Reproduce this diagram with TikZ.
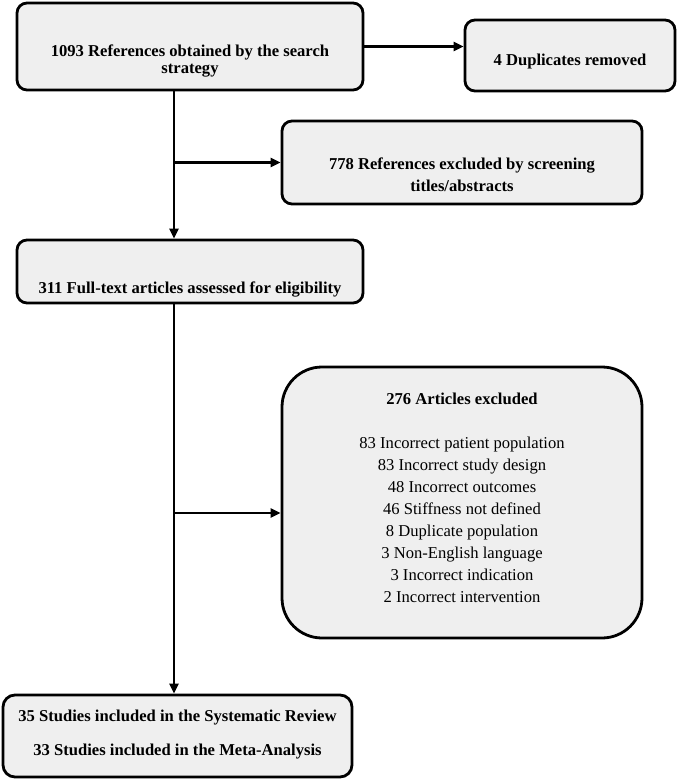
\documentclass[tikz,border=0pt]{standalone}
\usepackage{fontspec}
\setmainfont{Liberation Serif}
\usetikzlibrary{arrows.meta}

\definecolor{boxgray}{HTML}{EFEFEF}
\tikzset{
  box/.style={draw, line width=2.8pt, fill=boxgray, rounded corners=10pt, inner sep=0pt},
  lbl/.style={font=\fontsize{16.6}{22}\selectfont\bfseries, align=center, inner sep=0pt},
  lst/.style={font=\fontsize{16.6}{22}\selectfont, align=center, inner sep=0pt},
  arr/.style={line width=2.5pt, -{Triangle[length=10pt,width=9pt]}},
}

\begin{document}
\begin{tikzpicture}[x=1pt,y=-1pt]
  \useasboundingbox (0,0) rectangle (680,781);
  % boxes
  \node[box, minimum width=346pt, minimum height=87pt] (search) at (190,46.5) {};
  \node[lbl, font=\fontsize{16.6}{17}\selectfont\bfseries] (search-t) at (190,61) {1093 References obtained by the search\\strategy};
  \node[box, minimum width=210pt, minimum height=71pt] (dup) at (570,55.5) {};
  \node[lbl] (dup-t) at (570,62) {4 Duplicates removed};
  \node[box, minimum width=360pt, minimum height=83pt] (screen) at (462,162.5) {};
  \node[lbl] (screen-t) at (462,175) {778 References excluded by screening\\titles/abstracts};
  \node[box, minimum width=346pt, minimum height=63pt] (full) at (190,271.5) {};
  \node[lbl] (full-t) at (190,289) {311 Full-text articles assessed for eligibility};
  \node[box, rounded corners=40pt, minimum width=360pt, minimum height=271pt] (excl) at (462,502.5) {};
  \node[lst] (excl-t) at (462,498) {\textbf{276 Articles excluded}\\[22pt]
    83 Incorrect patient population\\
    83 Incorrect study design\\
    48 Incorrect outcomes\\
    46 Stiffness not defined\\
    8 Duplicate population\\
    3 Non-English language\\
    3 Incorrect indication\\
    2 Incorrect intervention};
  \node[box, rounded corners=12pt, minimum width=349pt, minimum height=82pt] (incl) at (177.5,736) {};
  \node[lbl] (incl-t) at (177.5,735) {35 Studies included in the Systematic Review\\[12pt]33 Studies included in the Meta-Analysis};
  % connectors
  \coordinate (trunk) at (174,0);
  \coordinate (j2) at (174,513);
  \draw[arr] (search.east) -- (search.east -| dup.west);
  \draw[arr] (search.south -| trunk) -- (full.north -| trunk);
  \draw[arr] (trunk |- screen.west) -- (screen.west);
  \draw[arr] (full.south -| trunk) -- (incl.north -| trunk);
  \draw[arr] (j2) -- (j2 -| excl.west);
\end{tikzpicture}
\end{document}
